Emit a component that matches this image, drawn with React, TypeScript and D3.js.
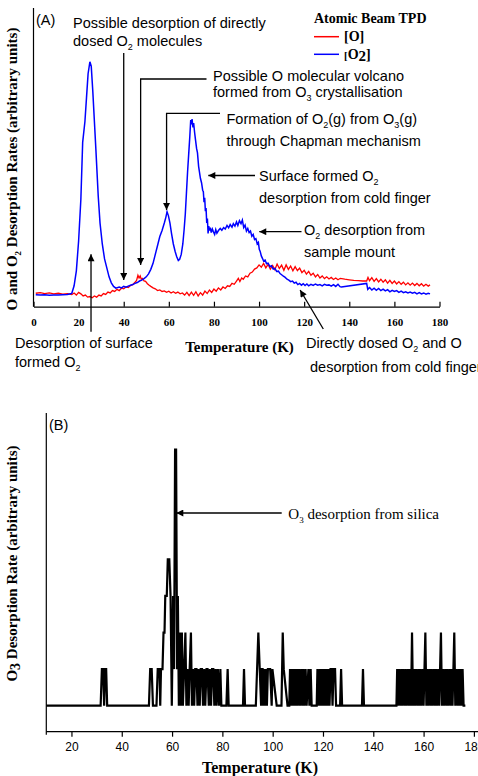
import * as d3 from "d3";
import { useEffect, useRef } from "react";

const W = 478;
const H = 776;

// Panel A traces: [temperature K, rate in arbitrary units]
const o2Rate: [number, number][] = [
  [1, 4.0], [3, 3.9], [5, 4.0], [7, 3.8], [9, 3.9], [11, 3.9], [13, 4.0], [15, 4.1], [16.5, 4.3],
  [17, 4.5], [18, 7], [19, 12], [20, 22], [21, 36], [21.8, 55], [22.8, 62], [23.5, 70], [24.2, 78],
  [25, 82], [25.6, 80.5], [26.3, 72], [27, 62], [27.7, 52], [28.7, 37], [29.5, 28], [30.5, 21],
  [31.5, 16], [32.5, 13], [33.5, 10], [34.5, 8], [35.5, 6.8], [36.5, 6.2], [38, 6.6], [39, 6.3],
  [40, 6.8], [41, 6.5], [42, 6.9], [43, 7.2], [44, 7.4], [45, 7.8], [46, 8.1], [47, 8.6], [48, 8.9],
  [49, 9.4], [50, 10], [51, 11], [52, 12.5], [53, 14.5], [54, 17.5], [55, 20.5], [56, 23.5],
  [57, 25.5], [58, 28], [58.7, 30], [59.2, 31.8], [59.8, 30.5], [60.5, 28], [61.2, 24.5], [62, 21],
  [62.8, 18.5], [63.5, 16.7], [64.2, 15.5], [64.8, 15.9], [65.5, 17.5], [66.2, 21], [66.8, 26],
  [67.3, 31], [67.8, 38], [68.3, 45], [68.8, 51], [69.3, 57], [69.7, 62.5], [70, 61], [70.3, 62.8],
  [70.7, 60], [71, 61.5], [71.4, 58.5], [71.8, 56], [72.3, 53], [72.7, 51.5], [73.2, 47], [73.6, 45],
  [74, 43], [74.5, 41.5], [75, 39], [75.3, 38.5], [75.6, 35], [75.9, 36.5], [76.2, 32], [76.5, 33],
  [76.8, 28], [77.1, 29.5], [77.4, 24.5], [77.7, 27], [78, 25.5], [78.4, 26.5], [78.8, 24.8],
  [79.3, 26], [79.8, 25], [80.3, 24.2], [80.8, 25.8], [81.3, 24.6], [82, 25.5], [82.8, 26.2],
  [83.5, 25.6], [84.3, 26.5], [85, 26], [85.8, 27.2], [86.5, 26.4], [87.2, 27.5], [88, 26.6],
  [88.6, 27.8], [89.3, 27], [90, 28.4], [90.6, 27.2], [91.3, 28.8], [92, 27.8], [92.6, 29],
  [93.2, 26.5], [93.8, 27.3], [94.4, 25.3], [95, 26.2], [95.6, 24.8], [96.2, 25.3], [96.8, 23.6],
  [97.4, 24.2], [98, 22.5], [98.6, 22.8], [99.2, 21], [99.7, 21.5], [100.1, 19.2], [100.5, 18.5],
  [101, 17], [101.5, 16.2], [102, 15.3], [102.7, 15.6], [103.3, 14.4], [104, 14.6], [104.8, 13.4],
  [105.5, 13.7], [106.3, 12.6], [107, 12.8], [107.8, 11.8], [108.6, 11.9], [109.3, 11.1], [110, 10.7],
  [110.8, 10.2], [111.6, 9.8], [112.4, 9.2], [113.2, 8.9], [114, 8.4], [114.8, 8.6], [115.6, 7.9],
  [116.4, 8.2], [117.2, 7.4], [118, 7.8], [118.8, 7.2], [119.6, 7.7], [120.4, 7.1], [121.2, 7.6],
  [122, 7.0], [123, 7.5], [124, 7.1], [125, 7.6], [126, 7.2], [127, 7.4], [128, 7.0], [129, 7.5],
  [130, 7.2], [131, 7.3], [132, 6.9], [133, 7.4], [134, 6.8], [135, 7.5], [135.9, 6.7], [136.5, 6.6],
  [147.7, 7.8], [148.2, 5.8], [149, 6.4], [150, 5.6], [151, 6.2], [152, 5.5], [153, 6.1], [154, 5.4],
  [155, 5.9], [156, 5.3], [157, 5.7], [158, 5.0], [159, 5.5], [160, 5.1], [161, 5.4], [162, 4.8],
  [163, 5.2], [164, 4.7], [165, 5.0], [166, 4.6], [167, 4.9], [168, 4.5], [169, 4.8], [170, 4.3],
  [171, 4.7], [172, 4.3], [173, 4.6], [174, 4.2], [175, 4.5], [175.8, 4.3],
];

const oRate: [number, number][] = [
  [1, 4.5], [3, 4.7], [5, 4.4], [7, 4.6], [9, 4.3], [11, 4.5], [13, 4.2], [15, 4.4], [17, 4.1],
  [18, 4.6], [19, 3.9], [20, 4.8], [21, 4.3], [22, 3.6], [23, 3.9], [24, 3.2], [25, 3.4], [26, 3.0],
  [27, 3.6], [28, 3.2], [29, 3.9], [30, 3.6], [31, 4.4], [32, 4.1], [33, 4.9], [34, 4.6], [35, 5.4],
  [36, 5.1], [37, 5.8], [38, 5.4], [39, 6.2], [40, 6.0], [41, 6.6], [42, 6.4], [43, 7.1], [44, 7.4],
  [45, 8.2], [45.7, 8.8], [46.3, 10.5], [46.8, 9.6], [47.3, 10.3], [47.8, 9.2], [48.4, 9.5], [49, 8.6],
  [49.7, 8.5], [50.5, 7.7], [51.3, 7.2], [52, 6.8], [53, 6.3], [54, 6.0], [55, 5.4], [56, 5.6],
  [57, 5.1], [58, 5.3], [59, 4.8], [60, 5.2], [61, 4.6], [62, 5.0], [63, 4.5], [64, 4.9], [65, 4.3],
  [66, 4.6], [67, 3.9], [68, 4.8], [69, 3.7], [70, 4.9], [71, 3.8], [72, 5.0], [73, 3.6], [74, 4.7],
  [75, 3.9], [76, 5.2], [77, 4.4], [78, 5.6], [79, 4.8], [80, 5.9], [81, 5.2], [82, 6.3], [83, 5.6],
  [84, 6.6], [85, 6.1], [86, 7.0], [87, 6.8], [88, 7.8], [89, 7.5], [90, 8.6], [90.8, 9.5], [91.5, 8.4],
  [92.3, 9.6], [93, 9.2], [94, 10.3], [95, 10.0], [96, 11.2], [97, 11.6], [98, 12.6], [99, 13.0],
  [100, 14.0], [101, 13.2], [102, 14.5], [103, 13.0], [104, 14.2], [105, 12.6], [106, 13.8],
  [107, 12.4], [108, 14.3], [109, 12.8], [110, 13.9], [111, 12.2], [112, 14.0], [113, 12.5],
  [114, 13.6], [115, 12.0], [116, 13.4], [117, 12.1], [118, 12.9], [119, 11.4], [120, 12.2],
  [121, 10.9], [122, 11.8], [123, 10.5], [124, 11.2], [125, 10.0], [126, 10.8], [127, 9.6],
  [128, 10.3], [129, 9.4], [130, 10.0], [131, 9.3], [132, 9.8], [133, 9.1], [134, 9.6], [135, 9.0],
  [136, 9.5], [138, 9.2], [140, 9.0], [142, 8.8], [144, 8.7], [146, 8.6], [147.7, 8.6], [148.3, 9.8],
  [149, 8.7], [150, 9.7], [151, 8.5], [152, 9.4], [153, 8.3], [154, 9.2], [155, 8.2], [156, 9.0],
  [157, 7.9], [158, 8.8], [159, 7.8], [160, 8.6], [161, 7.6], [162, 8.4], [163, 7.5], [164, 8.2],
  [165, 7.3], [166, 8.0], [167, 7.2], [168, 7.9], [169, 7.1], [170, 7.8], [171, 7.0], [172, 7.7],
  [173, 6.9], [174, 7.5], [175, 6.9], [175.8, 7.3],
];

// Panel B: O3 counts
const o3Rate: [number, number][] = [
  [10, 0], [31.6, 0], [32.1, 1], [32.6, 1], [33.0, 0], [33.4, 1], [33.8, 1], [34.2, 0],
  [50.8, 0], [51.3, 1], [51.9, 1], [52.4, 0], [53.8, 0], [54.3, 1], [55.0, 1], [55.3, 0], [55.6, 1],
  [56.2, 1], [56.6, 2], [57.0, 2], [57.3, 3], [57.9, 3], [58.3, 4], [58.9, 4], [59.4, 3], [59.9, 0],
  [60.4, 3], [60.8, 1], [61.2, 7], [61.6, 7], [62.0, 1], [62.3, 3], [62.7, 0], [63.1, 2], [63.5, 0],
  [63.9, 2], [64.3, 0], [64.8, 1], [65.3, 2], [65.7, 0], [66.1, 1], [66.6, 0], [67.0, 1], [67.5, 2],
  [67.9, 0], [68.3, 1], [68.8, 0], [69.2, 1], [69.7, 1], [70.1, 0], [70.5, 1], [71.0, 0], [71.4, 1],
  [71.9, 1], [72.3, 0], [72.8, 1], [73.2, 0], [73.7, 1], [74.1, 1], [74.6, 0], [75.0, 1], [75.5, 0],
  [75.9, 1], [76.4, 1], [76.8, 0], [77.3, 1], [77.7, 0], [78.2, 1], [78.7, 0], [79.2, 1], [79.6, 0],
  [81.6, 0], [82.1, 1], [82.5, 0], [88.2, 0], [88.6, 1], [89.0, 0], [93.3, 0], [94.3, 2], [95.4, 0],
  [95.6, 1], [96.0, 1], [96.2, 0], [96.5, 1], [96.9, 0], [97.3, 1], [97.7, 0], [98.1, 1], [99.0, 1],
  [99.6, 0], [99.9, 1], [101.6, 0], [103.5, 0], [104.0, 2], [104.4, 1], [105.9, 0], [106.6, 0],
  [106.9, 1], [107.2, 0], [107.6, 1], [107.9, 0], [108.3, 1], [108.6, 0], [109.0, 1], [109.3, 0],
  [109.7, 1], [110.0, 0], [110.5, 1], [110.9, 0], [111.4, 1], [111.8, 0], [112.2, 1], [112.6, 0],
  [113.1, 1], [113.5, 0], [114.2, 1], [114.6, 0], [115.1, 1], [115.5, 0], [117.5, 0], [117.8, 1],
  [118.3, 0], [118.7, 1], [119.1, 0], [119.5, 1], [119.8, 0], [120.2, 1], [120.5, 0], [120.9, 1],
  [121.2, 0], [121.6, 1], [121.9, 0], [122.3, 1], [122.6, 0], [123.0, 1], [123.4, 1], [123.8, 0],
  [124.2, 1], [124.8, 1], [125.2, 0], [126.8, 0], [127.2, 1], [127.6, 0], [135.5, 0], [135.9, 1],
  [136.3, 0], [149.2, 0], [149.5, 1], [149.9, 0], [150.3, 1], [150.8, 0], [151.2, 1], [151.6, 0],
  [152.0, 1], [152.5, 0], [152.9, 1], [153.3, 0], [153.8, 1], [154.2, 0], [154.6, 1], [155.0, 0],
  [155.4, 2], [155.8, 0], [156.2, 1], [156.6, 0], [157.0, 1], [157.5, 0], [157.9, 1], [158.3, 0],
  [158.7, 1], [159.1, 0], [159.6, 1], [160.0, 0], [160.7, 2], [161.1, 0], [161.5, 1], [161.9, 0],
  [162.4, 1], [162.8, 0], [163.2, 1], [163.6, 0], [164.1, 1], [164.5, 0], [164.9, 1], [165.3, 0],
  [165.8, 1], [166.2, 0], [166.9, 2], [167.3, 0], [167.7, 1], [168.1, 0], [168.6, 1], [169.0, 0],
  [169.4, 1], [169.8, 0], [170.3, 1], [170.7, 0], [171.1, 1], [171.5, 0], [172.2, 2], [172.6, 0],
  [173.0, 1], [173.5, 0], [173.9, 1], [174.3, 0], [174.7, 1], [175.1, 0], [175.5, 1], [175.9, 0],
  [176.6, 0],
];

const ticksA = [0, 20, 40, 60, 80, 100, 120, 140, 160, 180];
const minorA = [10, 30, 50, 70, 90, 110, 130, 150, 170];
const ticksB = [20, 40, 60, 80, 100, 120, 140, 160, 180];
const minorB = [10, 30, 50, 70, 90, 110, 130, 150, 170];

const RED = "#ff0000";
const BLUE = "#0000ff";
const SANS = "'Liberation Sans', Arial, sans-serif";
const SERIF = "'Liberation Serif', 'Times New Roman', serif";

type Seg = string | { sub: string };

function addText(parent: any, x: number, y: number, segs: Seg[], o: any) {
  const t = parent.append("text")
    .attr("x", x).attr("y", y)
    .attr("font-family", o.family)
    .attr("font-size", o.size)
    .attr("font-weight", o.weight || "normal")
    .attr("text-anchor", o.anchor || "start")
    .attr("fill", "#000");
  if (o.rotate) t.attr("transform", `rotate(-90, ${x}, ${y})`);
  let down = false;
  segs.forEach(s => {
    if (typeof s === "string") {
      t.append("tspan").attr("dy", down ? -o.subDy : 0).text(s);
      down = false;
    } else {
      t.append("tspan").attr("font-size", o.subSize).attr("dy", o.subDy).text(s.sub);
      down = true;
    }
  });
  return t;
}

const App = () => {
  const ref = useRef(null);

  useEffect(() => {
    const svg = d3.select(ref.current);
    svg.selectAll("*").remove();

    svg.append("defs").append("marker")
      .attr("id", "arr")
      .attr("viewBox", "0 0 10 10")
      .attr("refX", 10).attr("refY", 5)
      .attr("markerUnits", "userSpaceOnUse")
      .attr("markerWidth", 9).attr("markerHeight", 7)
      .attr("orient", "auto")
      .append("path").attr("d", "M0,0 L10,5 L0,10 z").attr("fill", "#000");

    // ---------- panel A ----------
    const xA = d3.scaleLinear().domain([0, 180]).range([33.5, 439.5]);
    const yA = d3.scaleLinear().domain([0, 100]).range([306.7, 8]);

    const gA = svg.append("g");
    gA.append("line").attr("x1", xA(0)).attr("x2", xA(0)).attr("y1", yA(100)).attr("y2", yA(0))
      .attr("stroke", "#000").attr("stroke-width", 1.2);

    const axA = gA.append("g").attr("transform", `translate(0,${yA(0)})`);
    axA.call(d3.axisBottom(xA).tickValues(minorA).tickSize(-3).tickFormat(() => ""));
    axA.call(d3.axisBottom(xA).tickValues(ticksA).tickSize(-5).tickSizeOuter(0).tickPadding(12).tickFormat(d3.format("d")));
    axA.selectAll("path").attr("stroke-width", 1.2);
    axA.selectAll("line").attr("stroke-width", 1.2);
    axA.selectAll("text").attr("font-family", SERIF).attr("font-weight", "bold").attr("font-size", 11);

    const lineA = d3.line<[number, number]>().x(d => xA(d[0])).y(d => yA(d[1]));
    gA.append("path").attr("d", lineA(oRate)).attr("fill", "none").attr("stroke", RED).attr("stroke-width", 1.3);
    gA.append("path").attr("d", lineA(o2Rate)).attr("fill", "none").attr("stroke", BLUE).attr("stroke-width", 1.5);

    addText(gA, 36, 25, ["(A)"], { family: SANS, size: 14.5 });

    // legend
    addText(gA, 314, 23, ["Atomic Beam TPD"], { family: SERIF, size: 14, weight: "bold" });
    gA.append("line").attr("x1", 314).attr("x2", 339).attr("y1", 36.7).attr("y2", 36.7).attr("stroke", RED).attr("stroke-width", 1.5);
    addText(gA, 344, 41, ["[O]"], { family: SERIF, size: 14, weight: "bold" });
    gA.append("line").attr("x1", 314).attr("x2", 339).attr("y1", 54.3).attr("y2", 54.3).attr("stroke", BLUE).attr("stroke-width", 1.5);
    const lg = addText(gA, 344, 59, [], { family: SERIF, size: 14, weight: "bold" });
    lg.append("tspan").attr("font-size", 11).text("[");
    lg.append("tspan").text("O");
    lg.append("tspan").attr("font-size", 15).attr("dy", 2).text("2");
    lg.append("tspan").attr("dy", -2).text("]");

    // axis titles
    addText(gA, xA(90) + 3, 352, ["Temperature (K)"], { family: SERIF, size: 15, weight: "bold", anchor: "middle" });
    addText(gA, 17, 169, ["O and O", { sub: "2" }, " Desorption Rates (arbitrary units)"],
      { family: SERIF, size: 15, weight: "bold", anchor: "middle", rotate: true, subSize: 9, subDy: 4 });

    // annotations
    const ann = { family: SANS, size: 14.5, subSize: 9, subDy: 4 };
    const leader = (pts: [number, number][]) =>
      gA.append("path").attr("d", d3.line()(pts)).attr("fill", "none")
        .attr("stroke", "#000").attr("stroke-width", 1.3).attr("marker-end", "url(#arr)");

    addText(gA, 73, 28, ["Possible desorption of directly"], ann);
    addText(gA, 73, 45.5, ["dosed O", { sub: "2" }, " molecules"], ann);
    leader([[xA(40), 53], [xA(40), yA(8.9)]]);

    addText(gA, 213, 80.5, ["Possible O molecular volcano"], ann);
    addText(gA, 213, 97, ["formed from O", { sub: "3" }, " crystallisation"], ann);
    leader([[206.5, 79], [xA(47.5), 79], [xA(47.5), yA(14)]]);

    addText(gA, 226.5, 123.5, ["Formation of O", { sub: "2" }, "(g) from O", { sub: "3" }, "(g)"], ann);
    addText(gA, 226.5, 145.5, ["through Chapman mechanism"], ann);
    leader([[220, 113.3], [xA(59), 113.3], [xA(59), yA(32.4)]]);

    addText(gA, 259, 180.5, ["Surface formed O", { sub: "2" }], ann);
    addText(gA, 259, 203, ["desorption from cold finger"], ann);
    leader([[255, 175.5], [xA(77.5), 175.5]]);

    addText(gA, 304, 234.5, ["O", { sub: "2" }, " desorption from"], ann);
    addText(gA, 304, 256.5, ["sample mount"], ann);
    leader([[301.5, 231.7], [xA(100.1), 231.7]]);

    addText(gA, 15, 348, ["Desorption of surface"], ann);
    addText(gA, 15, 367, ["formed O", { sub: "2" }], ann);
    leader([[xA(25.5), 331.7], [xA(25.5), yA(17.6)]]);

    addText(gA, 306, 348, ["Directly dosed O", { sub: "2" }, " and O"], ann);
    addText(gA, 310, 372, ["desorption from cold finger"], ann);
    leader([[323.3, 329], [xA(118.2), yA(5.6)]]);

    // ---------- panel B ----------
    const xB = d3.scaleLinear().domain([10, 180]).range([46.3, 473.9]);
    const yB = d3.scaleLinear().domain([-0.71, 8]).range([731.7, 413]);

    const gB = svg.append("g");
    gB.append("line").attr("x1", xB(10)).attr("x2", xB(10)).attr("y1", yB(8)).attr("y2", yB(-0.71) + 3)
      .attr("stroke", "#000").attr("stroke-width", 1.2);

    const axB = gB.append("g").attr("transform", `translate(0,${yB(-0.71)})`);
    axB.call(d3.axisBottom(xB).tickValues(minorB).tickSize(3).tickFormat(() => ""));
    axB.call(d3.axisBottom(xB).tickValues(ticksB).tickSize(5).tickSizeOuter(0).tickPadding(6).tickFormat(d3.format("d")));
    axB.select("path.domain").attr("d", `M${xB(10)},0H${W + 5}`);
    axB.selectAll("path").attr("stroke-width", 1.2);
    axB.selectAll("line").attr("stroke-width", 1.2);
    axB.selectAll("text").attr("font-family", SANS).attr("font-size", 12);

    const lineB = d3.line<[number, number]>().x(d => xB(d[0])).y(d => yB(d[1]));
    gB.append("path").attr("d", lineB(o3Rate)).attr("fill", "none").attr("stroke", "#000")
      .attr("stroke-width", 2.2).attr("stroke-linejoin", "miter").attr("stroke-miterlimit", 3);

    addText(gB, 49, 430, ["(B)"], { family: SANS, size: 14.5 });

    addText(gB, 288.3, 518.5, ["O", { sub: "3" }, " desorption from silica"],
      { family: SERIF, size: 15, subSize: 9, subDy: 4 });
    gB.append("line").attr("x1", 281.7).attr("x2", xB(61.7)).attr("y1", 513).attr("y2", 513)
      .attr("stroke", "#000").attr("stroke-width", 1.3).attr("marker-end", "url(#arr)");

    addText(gB, 260, 772.5, ["Temperature (K)"], { family: SERIF, size: 16, weight: "bold", anchor: "middle" });
    addText(gB, 17, 563.5, ["O", { sub: "3" }, " Desorption Rate (arbitrary units)"],
      { family: SERIF, size: 15, weight: "bold", anchor: "middle", rotate: true, subSize: 14, subDy: 3 });
  }, []);

  return (
    <svg ref={ref} width={W} height={H}
      style={{ position: "absolute", left: 0, top: 0, background: "#fff" }} />
  );
};

export default App;
